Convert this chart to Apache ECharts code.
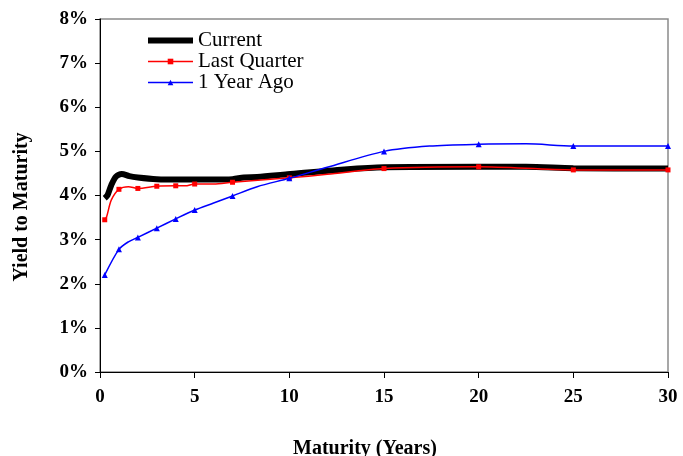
<!DOCTYPE html>
<html>
<head>
<meta charset="utf-8">
<script src="https://cdn.jsdelivr.net/npm/echarts@6/dist/echarts.min.js"></script>
<style>html,body{margin:0;padding:0;background:#fff;}#c{width:683px;height:456px;}</style>
</head>
<body>
<div id="c"></div>
<script>
const xTicks = [0, 5, 10, 15, 20, 25, 30];
const yTicks = [0, 1, 2, 3, 4, 5, 6, 7, 8];
const markerMaturities = [0.25, 1, 2, 3, 4, 5, 7, 10, 15, 20, 25, 30];

const currentMat = [0.25, 0.4, 0.6, 0.85, 1.15, 1.55, 2, 3, 4, 5, 6, 7, 7.6, 8.3, 9.9, 12.9, 15, 20, 22.5, 25, 30];
const currentYld = [3.94, 4.01, 4.24, 4.43, 4.49, 4.44, 4.41, 4.37, 4.36, 4.36, 4.36, 4.37, 4.41, 4.42, 4.48, 4.59, 4.64, 4.65, 4.65, 4.62, 4.61];

const lastQMat = [0.25, 0.35, 0.6, 1, 1.5, 2, 3, 4, 4.5, 5, 6, 7, 10, 12, 15, 20, 25, 30];
const lastQYld = [3.45, 3.52, 3.9, 4.14, 4.2, 4.16, 4.21, 4.22, 4.22, 4.26, 4.26, 4.3, 4.4, 4.48, 4.61, 4.65, 4.58, 4.58];

const yearAgoMat = [0.25, 1, 1.5, 2, 3, 4, 5, 6, 7, 8.3, 10, 12, 15, 17.4, 20, 22.5, 25, 30];
const yearAgoYld = [2.2, 2.78, 2.95, 3.05, 3.26, 3.47, 3.67, 3.83, 3.99, 4.2, 4.39, 4.64, 5.0, 5.12, 5.16, 5.17, 5.12, 5.12];

function build(mat, yld, marked) {
  return mat.map((m, i) => {
    const item = { value: [m, yld[i]] };
    if (!marked || markerMaturities.indexOf(m) < 0) item.symbol = 'none';
    return item;
  });
}

const FONT = 'Liberation Serif';
const chart = echarts.init(document.getElementById('c'));
chart.setOption({
  animation: false,
  backgroundColor: '#fff',
  textStyle: { fontFamily: FONT, color: '#000' },
  grid: { left: 100, right: 15, top: 19, bottom: 84, outerBoundsMode: 'none', containLabel: false,
          show: true, borderColor: '#8a8a8a', borderWidth: 1.5, backgroundColor: 'transparent' },
  legend: {
    orient: 'vertical', left: 145, top: 30, padding: 0, itemWidth: 45, itemHeight: 7, itemGap: 0,
    textStyle: { fontFamily: FONT, fontSize: 21, lineHeight: 20, color: '#000' },
    data: [
      { name: 'Current', itemStyle: { opacity: 0 }, lineStyle: { width: 6 } },
      { name: 'Last Quarter', lineStyle: { width: 1.5 } },
      { name: '1 Year Ago', lineStyle: { width: 1.5 } }
    ]
  },
  xAxis: {
    type: 'value', min: xTicks[0], max: xTicks[xTicks.length - 1], interval: 5,
    name: 'Maturity (Years)', nameLocation: 'middle', nameGap: 67,
    nameTextStyle: { fontFamily: FONT, fontWeight: 'bold', fontSize: 20, color: '#000', padding: [0, 38, 0, 0] },
    axisLine: { show: true, lineStyle: { color: '#000', width: 1 } },
    axisTick: { show: true, inside: false, length: 6, lineStyle: { color: '#000' } },
    axisLabel: { margin: 16, fontFamily: FONT, fontWeight: 'bold', fontSize: 19, color: '#000' },
    splitLine: { show: false }
  },
  yAxis: {
    type: 'value', min: yTicks[0], max: yTicks[yTicks.length - 1], interval: 1,
    name: 'Yield to Maturity', nameLocation: 'middle', nameGap: 68, nameRotate: 90,
    nameTextStyle: { fontFamily: FONT, fontWeight: 'bold', fontSize: 20, color: '#000', padding: [0, 23, 0, 0] },
    axisLine: { show: true, lineStyle: { color: '#000', width: 1 } },
    axisTick: { show: true, inside: false, length: 5, lineStyle: { color: '#000' } },
    axisLabel: { margin: 12, fontFamily: FONT, fontWeight: 'bold', fontSize: 19, color: '#000', formatter: '{value}%' },
    splitLine: { show: false }
  },
  series: [
    {
      name: 'Current', type: 'line', smooth: 0.3, symbol: 'none', z: 3,
      lineStyle: { color: '#000', width: 6 }, itemStyle: { color: '#000' },
      data: build(currentMat, currentYld, false)
    },
    {
      name: 'Last Quarter', type: 'line', smooth: 0.3, symbol: 'rect', symbolSize: 5, showAllSymbol: true, z: 4,
      lineStyle: { color: '#ff0000', width: 1.5 }, itemStyle: { color: '#ff0000' },
      data: build(lastQMat, lastQYld, true)
    },
    {
      name: '1 Year Ago', type: 'line', smooth: 0.3, symbol: 'triangle', symbolSize: 6, showAllSymbol: true, z: 5,
      lineStyle: { color: '#0000ff', width: 1.5 }, itemStyle: { color: '#0000ff' },
      data: build(yearAgoMat, yearAgoYld, true)
    }
  ]
});
</script>
</body>
</html>
